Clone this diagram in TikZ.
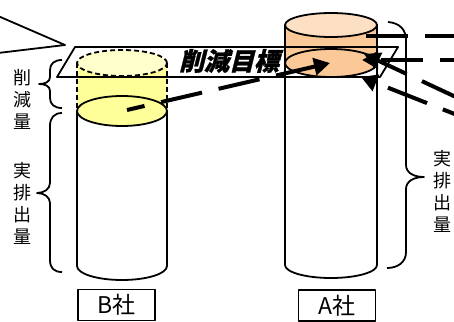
\documentclass[tikz,border=0pt]{standalone}
\usepackage{fontspec}
\newfontfamily\cjk{Noto Sans CJK JP}
\newfontfamily\cjkbi[FakeSlant=0.25,FakeBold=1]{Noto Sans CJK JP}
\usetikzlibrary{arrows.meta}
\definecolor{ylight}{HTML}{FFFFCC}
\definecolor{ymid}{HTML}{FFFF99}
\definecolor{plight}{HTML}{FDDFC4}
\definecolor{pmid}{HTML}{FBC898}
\tikzset{
  outl/.style={line width=1.8pt, line join=round},
  thickarrow/.style={line width=4pt, -{Triangle[length=16pt,width=17pt]}},
  backarrow/.style={line width=4pt, {Triangle[length=16pt,width=17pt]}-},
  thickdash/.style={dash pattern=on 42pt off 17pt},
  vlabel/.style={font=\cjk\fontsize{18}{22}\selectfont, align=center, inner sep=0pt},
  corplabel/.style={draw, outl, font=\cjk\fontsize{23}{26}\selectfont, minimum width=77pt, minimum height=31pt, inner sep=0pt}
}
\begin{document}
\begin{tikzpicture}[x=1pt,y=-1pt]
\useasboundingbox (0,0) rectangle (454,321);
\clip (0,0) rectangle (454,321);
% ---------- callout pointer
\coordinate (callA) at (-2,16);
\coordinate (callTip) at (65,45);
\coordinate (callB) at (-2,53);
\draw[outl] (callA) -- (callTip) -- (callB);
% ---------- cylinder B
\coordinate (Btop) at (122,63);
\coordinate (Bcut) at (122,111);
\draw[outl, fill=white] (77,111) -- (77,266) arc[start angle=180, end angle=360, x radius=45pt, y radius=14pt] -- (167,111);
\fill[ymid] (77,63) -- (77,111) arc[start angle=180, end angle=360, x radius=45pt, y radius=15pt] -- (167,63) -- cycle;
\draw[outl, dash pattern=on 5pt off 3pt] (77,63) -- (77,111) (167,63) -- (167,111);
\draw[outl, dash pattern=on 5pt off 3pt, fill=ylight] (Btop) ellipse [x radius=45pt, y radius=13pt];
\draw[outl, fill=ymid] (Bcut) ellipse [x radius=45pt, y radius=15pt];
% ---------- cylinder A
\coordinate (Atop) at (331,25);
\coordinate (Acut) at (331,63);
\draw[outl, fill=white] (285,63) -- (285,265) arc[start angle=180, end angle=360, x radius=46pt, y radius=13pt] -- (377,63);
\fill[pmid] (285,25) -- (285,63) arc[start angle=180, end angle=360, x radius=46pt, y radius=14pt] -- (377,25) -- cycle;
\draw[outl] (285,25) -- (285,63) (377,25) -- (377,63);
\draw[outl, fill=plight] (Atop) ellipse [x radius=46pt, y radius=12pt];
\draw[outl, fill=pmid] (Acut) ellipse [x radius=46pt, y radius=14pt];
% ---------- target plane
\coordinate (p1) at (57,77);
\coordinate (p2) at (75,47);
\coordinate (p3) at (398,47);
\coordinate (p4) at (380,77);
\draw[outl] (p1) -- (p2) -- (p3) -- (p4) -- cycle;
\node[font=\cjkbi\bfseries\fontsize{25}{28}\selectfont, inner sep=0pt] (target) at (229,61) {削減目標};
% ---------- braces
\draw[outl] (62,60) .. controls (54,60) and (50,64) .. (50,70) -- (50,77) .. controls (50,82) and (45,84) .. (39,84) .. controls (45,84) and (50,86) .. (50,91) -- (50,98) .. controls (50,104) and (54,108) .. (62,108);
\draw[outl] (62,113) .. controls (54,113) and (50,118) .. (50,126) -- (50,183) .. controls (50,189) and (44,193) .. (37,193) .. controls (44,193) and (50,197) .. (50,203) -- (50,260) .. controls (50,268) and (54,272) .. (62,272);
\draw[outl] (388,22) .. controls (400,23) and (406,30) .. (406,40) -- (406,165) .. controls (406,173) and (414,177) .. (424,177) .. controls (414,177) and (406,181) .. (406,189) -- (406,252) .. controls (406,262) and (398,268) .. (387,268);
% ---------- vertical labels
\node[vlabel] (redL) at (22,99) {削\\減\\量};
\node[vlabel] (actL) at (22,203) {実\\排\\出\\量};
\node[vlabel] (actR) at (442,191) {実\\排\\出\\量};
% ---------- company labels
\node[corplabel] (B) at (116.5,305) {B社};
\node[corplabel] (A) at (337,305.5) {A社};
% ---------- arrows
\coordinate (bStart) at (127,110);
\coordinate (aTip1) at (330,63);
\draw[thickarrow, thickdash, dash phase=24pt] (bStart) -- (aTip1);
\coordinate (top1) at (366,36);
\coordinate (top2) at (480,36);
\draw[line width=4pt, thickdash] (top1) -- (top2);
\coordinate (aTip2) at (362,60);
\coordinate (far2) at (490,60);
\draw[backarrow, thickdash, dash phase=55pt] (aTip2) -- (far2);
\coordinate (aTip3) at (364,54);
\coordinate (far3) at (490,113);
\draw[backarrow, thickdash, dash phase=10pt] (aTip3) -- (far3);
\coordinate (aTip4) at (361,77);
\coordinate (far4) at (490,128);
\draw[backarrow, thickdash, dash phase=45pt] (aTip4) -- (far4);
\end{tikzpicture}
\end{document}
